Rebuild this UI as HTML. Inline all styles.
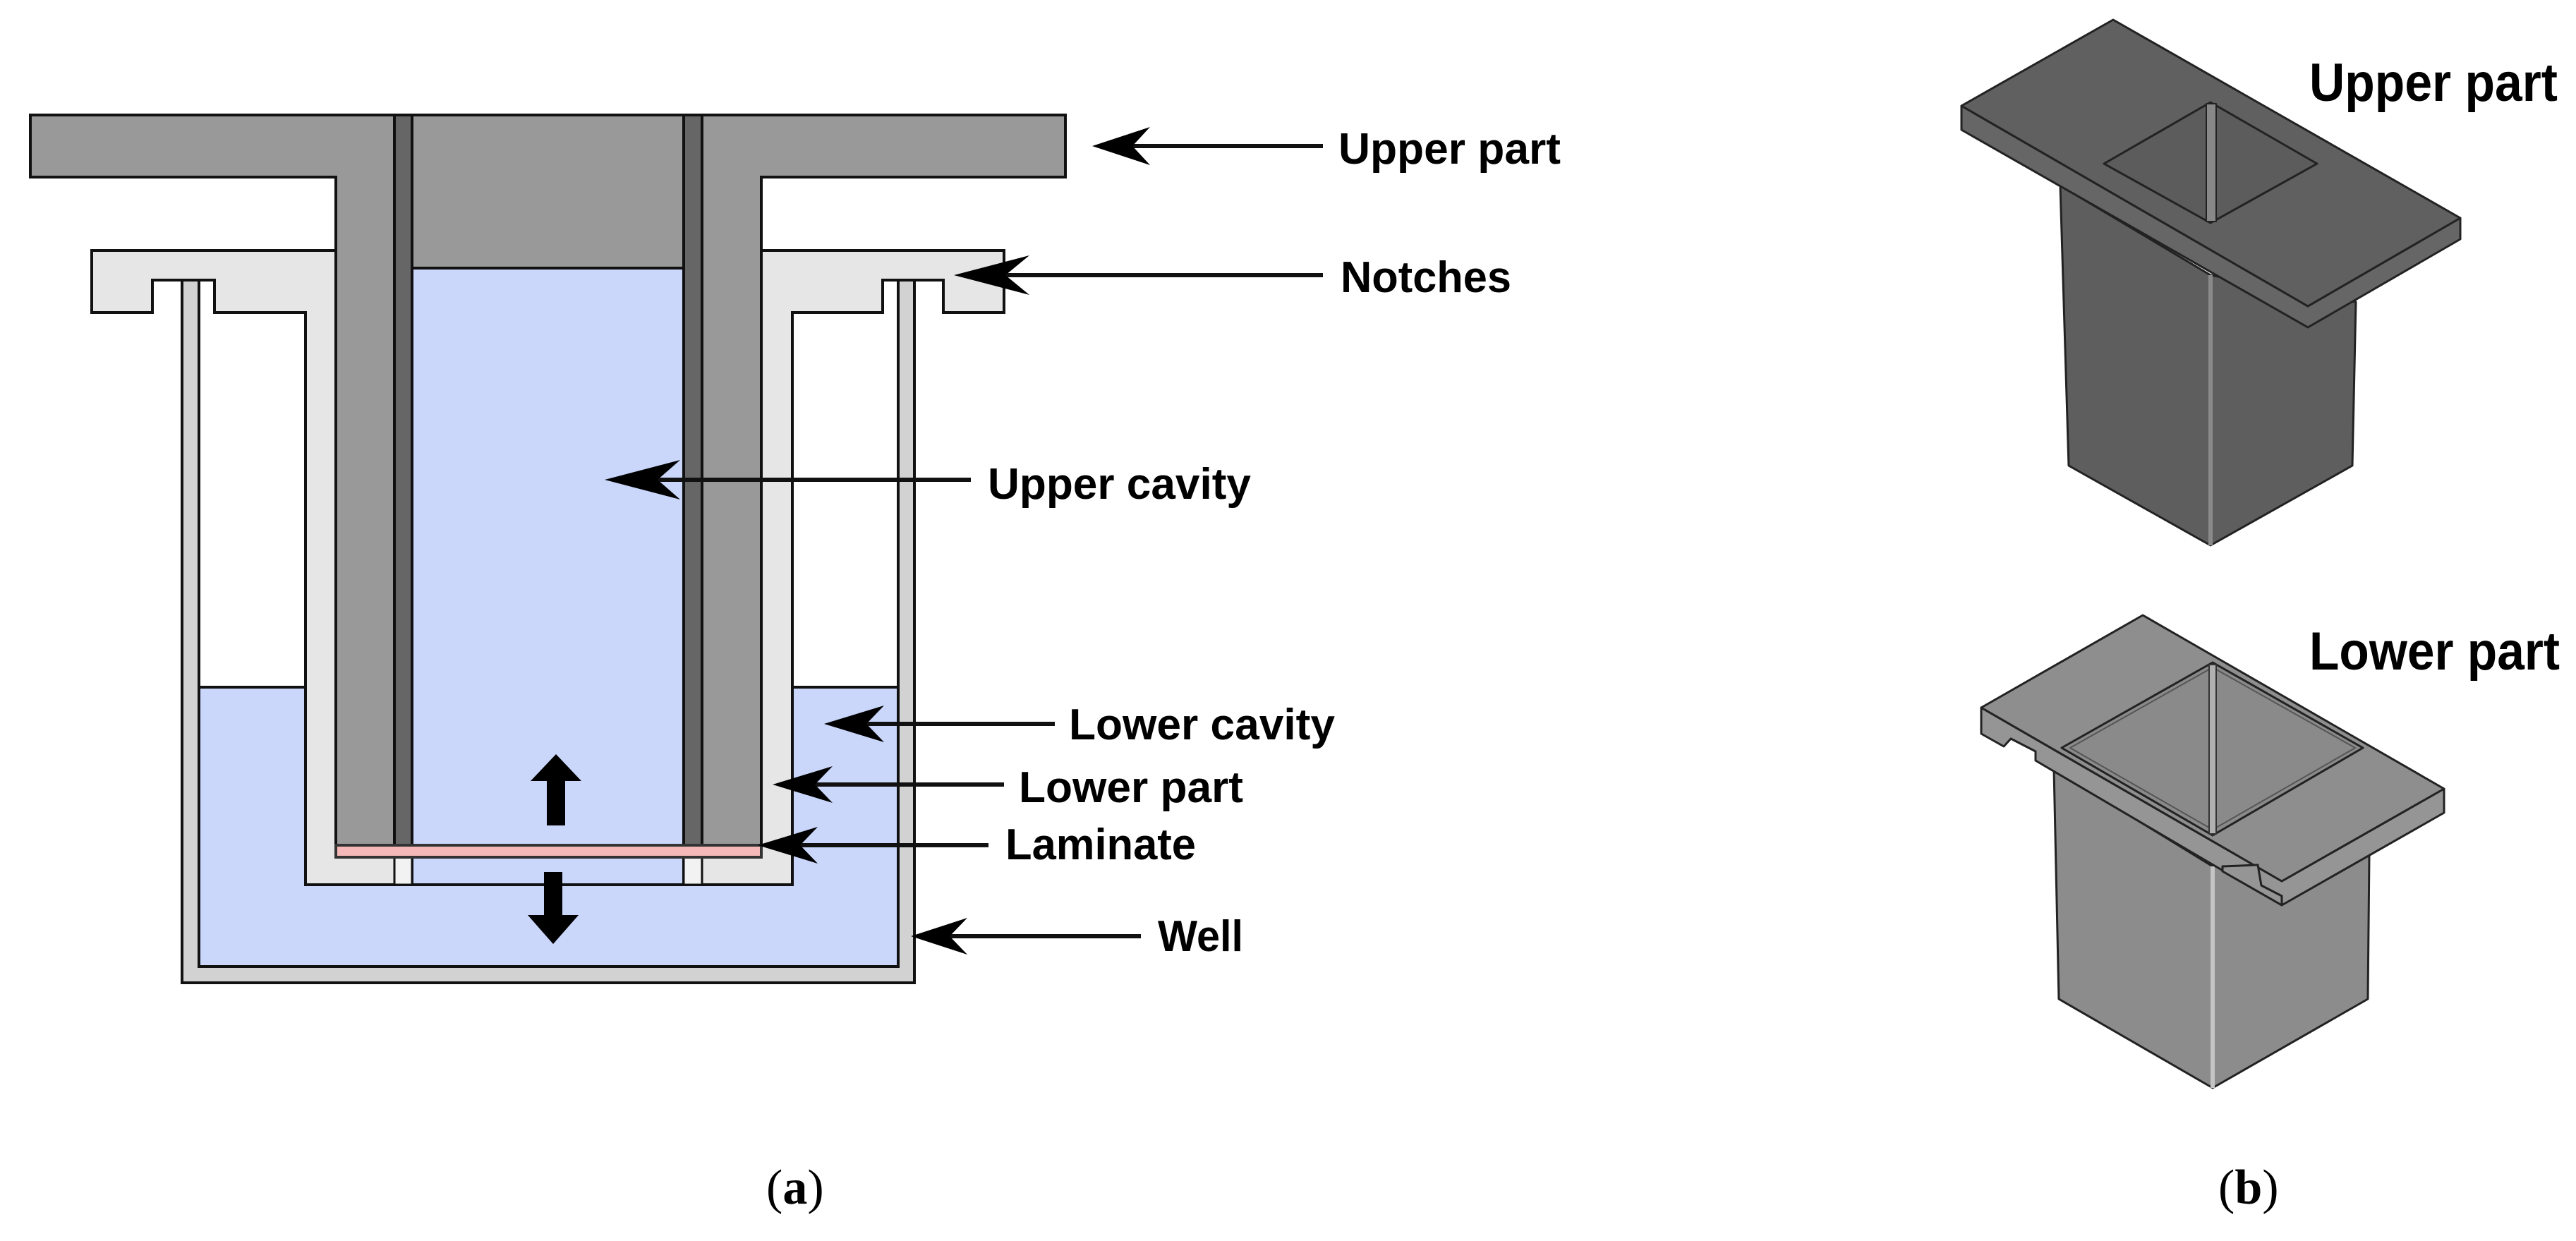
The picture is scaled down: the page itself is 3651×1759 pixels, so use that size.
<!DOCTYPE html>
<html><head><meta charset="utf-8"><style>
html,body{margin:0;padding:0;background:#fff;}
svg{display:block;}
.l{font-family:"Liberation Sans",Arial,sans-serif;font-weight:bold;font-size:62px;fill:#000;}
</style></head><body>
<svg width="3651" height="1759" viewBox="0 0 3651 1759" xmlns="http://www.w3.org/2000/svg">
<rect width="3651" height="1759" fill="#fff"/>
<!-- Well -->
<rect x="258" y="397" width="1038" height="996" fill="#d2d2d2" stroke="#111" stroke-width="4"/>
<rect x="282" y="397" width="991" height="973" fill="#fff" stroke="#111" stroke-width="4"/>
<rect x="282" y="974" width="991" height="396" fill="#cad7fb" stroke="#111" stroke-width="4"/>
<!-- Lower part -->
<polygon points="130,355 476,355 476,1215 1079,1215 1079,355 1423,355 1423,443 1337,443 1337,397 1251,397 1251,443 1123,443 1123,1254 433,1254 433,443 304,443 304,397 216,397 216,443 130,443" fill="#e6e6e6" stroke="#111" stroke-width="4"/>
<!-- Upper part -->
<polygon points="43,163 1510,163 1510,251 1079,251 1079,1198 476,1198 476,251 43,251" fill="#999" stroke="#111" stroke-width="4"/>
<rect x="584" y="380" width="385" height="874" fill="#cad7fb" stroke="#111" stroke-width="4"/>
<rect x="559" y="163" width="25" height="1035" fill="#666" stroke="#111" stroke-width="4"/>
<rect x="969" y="163" width="26" height="1035" fill="#666" stroke="#111" stroke-width="4"/>
<rect x="559" y="1215" width="25" height="39" fill="#f2f2f2" stroke="#111" stroke-width="3"/>
<rect x="969" y="1215" width="26" height="39" fill="#f2f2f2" stroke="#111" stroke-width="3"/>
<rect x="476" y="1198" width="603" height="17" fill="#f4b8b8" stroke="#333" stroke-width="4"/>
<!-- up/down arrows -->
<polygon points="788,1069 824,1107 801,1107 801,1170 775,1170 775,1107 752,1107" fill="#000"/>
<polygon points="784,1338 820,1297 797,1297 797,1236 771,1236 771,1297 748,1297" fill="#000"/>
<!-- label arrows -->
<g stroke="#111" stroke-width="6">
<line x1="1590" y1="207" x2="1875" y2="207"/>
<line x1="1400" y1="390" x2="1875" y2="390"/>
<line x1="900" y1="680" x2="1376" y2="680"/>
<line x1="1210" y1="1026" x2="1495" y2="1026"/>
<line x1="1135" y1="1112" x2="1423" y2="1112"/>
<line x1="1115" y1="1198" x2="1401" y2="1198"/>
<line x1="1330" y1="1327" x2="1617" y2="1327"/>
</g>
<g fill="#000">
<polygon points="1548,207 1630,180 1605,207 1630,234"/>
<polygon points="1352,390 1459,362 1425,390 1459,418"/>
<polygon points="857,680 964,652 932,680 964,708"/>
<polygon points="1168,1026 1253,1000 1228,1026 1253,1052"/>
<polygon points="1095,1112 1180,1086 1155,1112 1180,1138"/>
<polygon points="1074,1198 1159,1172 1134,1198 1159,1224"/>
<polygon points="1291,1327 1371,1301 1346,1327 1371,1353"/>
</g>
<text class="l" x="1897" y="232" textLength="315" lengthAdjust="spacingAndGlyphs">Upper part</text>
<text class="l" x="1900" y="414" textLength="242" lengthAdjust="spacingAndGlyphs">Notches</text>
<text class="l" x="1400" y="707" textLength="373" lengthAdjust="spacingAndGlyphs">Upper cavity</text>
<text class="l" x="1515" y="1048" textLength="377" lengthAdjust="spacingAndGlyphs">Lower cavity</text>
<text class="l" x="1444" y="1137" textLength="318" lengthAdjust="spacingAndGlyphs">Lower part</text>
<text class="l" x="1425" y="1218" textLength="270" lengthAdjust="spacingAndGlyphs">Laminate</text>
<text class="l" x="1641" y="1348" textLength="121" lengthAdjust="spacingAndGlyphs">Well</text>
<!-- Right panel: upper part -->
<g stroke="#222" stroke-width="3" stroke-linejoin="round">
<polygon points="2920,263 3133,390 3339,428 3334,660 3133,773 2932,660" fill="#5e5e5e"/>
<line x1="3133" y1="390" x2="3133" y2="773" stroke="#8a8a8a" stroke-width="6"/>
<polygon points="2780,150 2780,184 3271,464 3487,339 3487,309 3271,434" fill="#666"/>
<polygon points="2780,150 2995,28 3487,309 3271,434" fill="#606060"/>
<polygon points="2982,232 3133,145 3284,232 3133,316" fill="#5c5c5c"/>
<rect x="3127" y="147" width="14" height="167" fill="#888" stroke="#222" stroke-width="2"/>
</g>
<!-- Right panel: lower part -->
<g stroke="#222" stroke-width="3" stroke-linejoin="round">
<polygon points="2911,1090 3136,1228 3358,1212 3356,1416 3136,1542 2918,1416" fill="#8c8c8c"/>
<line x1="3136" y1="1228" x2="3136" y2="1542" stroke="#c4c4c4" stroke-width="6"/>
<polygon points="2808,1003 2808,1040 2840,1058 2850,1047 2885,1065 2885,1078 3234,1283 3464,1152 3464,1118 3234,1249" fill="#959595"/>
<polygon points="2808,1003 3037,872 3464,1118 3234,1249" fill="#8e8e8e"/>
<polygon points="2922,1060 3136,939 3349,1060 3136,1184" fill="#8a8a8a"/>
<polygon points="2934,1060 3136,946 3338,1060 3136,1176" fill="none" stroke="#555" stroke-width="2"/>
<rect x="3131" y="942" width="10" height="240" fill="#b0b0b0" stroke="#333" stroke-width="2"/>
<polygon points="3150,1228 3200,1226 3205,1255 3234,1270 3234,1283 3150,1235" fill="#959595"/>
</g>
<text class="l" x="3273" y="143" textLength="352" lengthAdjust="spacingAndGlyphs" style="font-size:76px">Upper part</text>
<text class="l" x="3273" y="949" textLength="355" lengthAdjust="spacingAndGlyphs" style="font-size:76px">Lower part</text>
<!-- captions -->
<text x="1086" y="1706" style="font-family:'Liberation Serif',serif;font-size:70px">(<tspan font-weight="bold">a</tspan>)</text>
<text x="3144" y="1706" style="font-family:'Liberation Serif',serif;font-size:70px">(<tspan font-weight="bold">b</tspan>)</text>
</svg>
</body></html>
